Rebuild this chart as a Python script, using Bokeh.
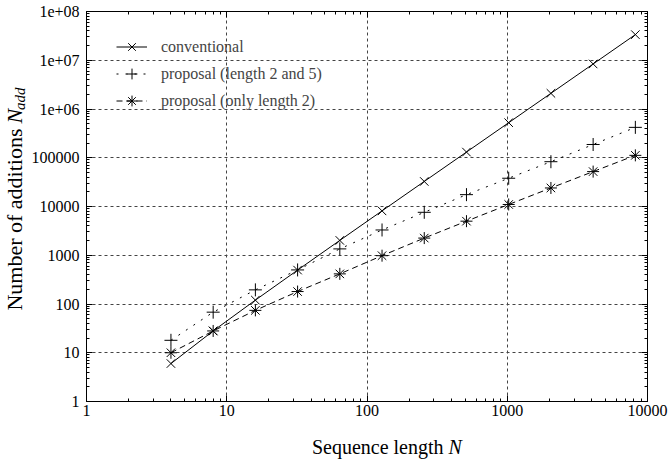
from math import pi
from bokeh.plotting import figure
from bokeh.layouts import row, column
from bokeh.models import (Range1d, LogAxis, FixedTicker, Label, Legend, LegendItem,
                          CustomJSTickFormatter)
from bokeh.embed import file_html
from bokeh.resources import INLINE

# ---- data ----
N = [4, 8, 16, 32, 64, 128, 256, 512, 1024, 2048, 4096, 8192]
conventional = [6, 28, 120, 496, 2016, 8128, 32640, 130816, 523776, 2096128, 8386560, 33550336]
proposal_2_5 = [18, 68, 195, 500, 1350, 3300, 7600, 17500, 38000, 83000, 187000, 420000]
proposal_2 = [10, 28, 74, 180, 415, 980, 2250, 5000, 11000, 24000, 52000, 112000]

series_labels = ["conventional", "proposal (length 2 and 5)", "proposal (only length 2)"]

x_ticks = [1, 10, 100, 1000, 10000]
x_tick_labels = ["1", "10", "100", "1000", "10000"]
y_ticks = [1, 10, 100, 1000, 10000, 100000, 1000000, 10000000, 100000000]
y_tick_labels = ["1", "10", "100", "1000", "10000", "100000", "1e+06", "1e+07", "1e+08"]

x_minor = [m * d for d in x_ticks[:-1] for m in range(2, 10)]
y_minor = [m * d for d in y_ticks[:-1] for m in range(2, 10)]

FONT = "Liberation Serif"
STRIP_W = 26

p = figure(frame_width=561, frame_height=390, x_axis_type="log", y_axis_type="log",
           x_range=Range1d(1, 10000), y_range=Range1d(1, 1e8),
           output_backend="svg", toolbar_location=None,
           min_border_left=86 - STRIP_W, min_border_right=21, min_border_top=11,
           min_border_bottom=29)
p.outline_line_color = "black"
p.outline_line_width = 1
p.background_fill_color = "white"
p.border_fill_color = "white"

def fmt(vals, labels):
    return CustomJSTickFormatter(args=dict(tv=vals, tl=labels), code="""
        for (let i = 0; i < tv.length; i++) {
            if (Math.abs(Math.log10(tick) - Math.log10(tv[i])) < 1e-6) return tl[i];
        }
        return '';
    """)

def style_axis(ax, labels_on=True):
    ax.axis_line_color = "black"
    ax.major_tick_in = 6
    ax.major_tick_out = 0
    ax.minor_tick_in = 3
    ax.minor_tick_out = 0
    ax.major_tick_line_color = "black"
    ax.minor_tick_line_color = "black"
    ax.major_label_text_font = FONT
    ax.major_label_text_color = "black"
    if labels_on:
        ax.major_label_text_font_size = "16px"
    else:
        ax.formatter = CustomJSTickFormatter(code="return '';")
        ax.major_label_text_font_size = "1px"
        ax.major_label_standoff = 0

xticker = FixedTicker(ticks=x_ticks, minor_ticks=x_minor)
yticker = FixedTicker(ticks=y_ticks, minor_ticks=y_minor)

p.xaxis.ticker = xticker
p.yaxis.ticker = yticker
p.xaxis.formatter = fmt(x_ticks, x_tick_labels)
p.yaxis.formatter = fmt(y_ticks, y_tick_labels)
style_axis(p.xaxis[0])
style_axis(p.yaxis[0])
p.xaxis.major_label_standoff = 3
p.yaxis.major_label_standoff = 7

top_ax = LogAxis(ticker=xticker)
right_ax = LogAxis(ticker=yticker)
style_axis(top_ax, labels_on=False)
style_axis(right_ax, labels_on=False)
p.add_layout(top_ax, "above")
p.add_layout(right_ax, "right")

for g in (p.xgrid, p.ygrid):
    g.grid_line_color = "#444444"
    g.grid_line_dash = "3 3"
    g.grid_line_width = 1
p.xgrid.ticker = FixedTicker(ticks=x_ticks[1:-1])
p.ygrid.ticker = FixedTicker(ticks=y_ticks[1:-1])

# ---- series ----
l1 = p.line(N, conventional, line_color="black", line_width=1)
m1 = p.scatter(N, conventional, marker="x", size=12, line_color="black", line_width=1)
l2 = p.line(N, proposal_2_5, line_color="black", line_width=1, line_dash="2 7")
m2 = p.scatter(N, proposal_2_5, marker="cross", size=13, line_color="black", line_width=1)
l3 = p.line(N, proposal_2, line_color="black", line_width=1, line_dash="6 4")
m3 = p.scatter(N, proposal_2, marker="asterisk", size=12, line_color="black", line_width=1)

legend = Legend(items=[LegendItem(label=series_labels[0], renderers=[l1, m1]),
                       LegendItem(label=series_labels[1], renderers=[l2, m2]),
                       LegendItem(label=series_labels[2], renderers=[l3, m3])],
                location=(30, 287), margin=0, padding=0, spacing=0,
                label_height=27, glyph_height=27, glyph_width=31, label_standoff=14,
                label_text_font=FONT, label_text_font_size="16px",
                border_line_color=None, background_fill_alpha=0)
p.add_layout(legend)

# ---- axis title strips (separate canvases so italic N and subscript are possible) ----
def strip(w, h):
    s = figure(width=w, height=h, x_range=Range1d(0, w), y_range=Range1d(0, h),
               output_backend="svg", toolbar_location=None,
               x_axis_location=None, y_axis_location=None, min_border=0)
    s.outline_line_color = None
    s.xgrid.visible = False
    s.ygrid.visible = False
    s.background_fill_color = "white"
    s.border_fill_color = "white"
    return s

left = strip(STRIP_W, 430)
left.add_layout(Label(x=14, y=301, angle=pi / 2,
                      text="Number of additions", text_font=FONT, text_font_size="22px",
                      text_align="right", text_baseline="middle", text_color="black"))
left.add_layout(Label(x=14, y=306.5, angle=pi / 2,
                      text="N", text_font=FONT, text_font_size="22px", text_font_style="italic",
                      text_align="left", text_baseline="middle", text_color="black"))
left.add_layout(Label(x=19, y=321.5, angle=pi / 2,
                      text="add", text_font=FONT, text_font_size="15px", text_font_style="italic",
                      text_align="left", text_baseline="middle", text_color="black"))

bottom = strip(668, 29)
bottom.add_layout(Label(x=443, y=13, text="Sequence length", text_font=FONT,
                        text_font_size="20px", text_align="right",
                        text_baseline="alphabetic", text_color="black"))
bottom.add_layout(Label(x=448, y=13, text="N", text_font=FONT, text_font_size="20px",
                        text_font_style="italic", text_align="left",
                        text_baseline="alphabetic", text_color="black"))

layout = column(row(left, p, spacing=0), bottom, spacing=0)

open("out.html", "w").write(file_html(layout, INLINE))
